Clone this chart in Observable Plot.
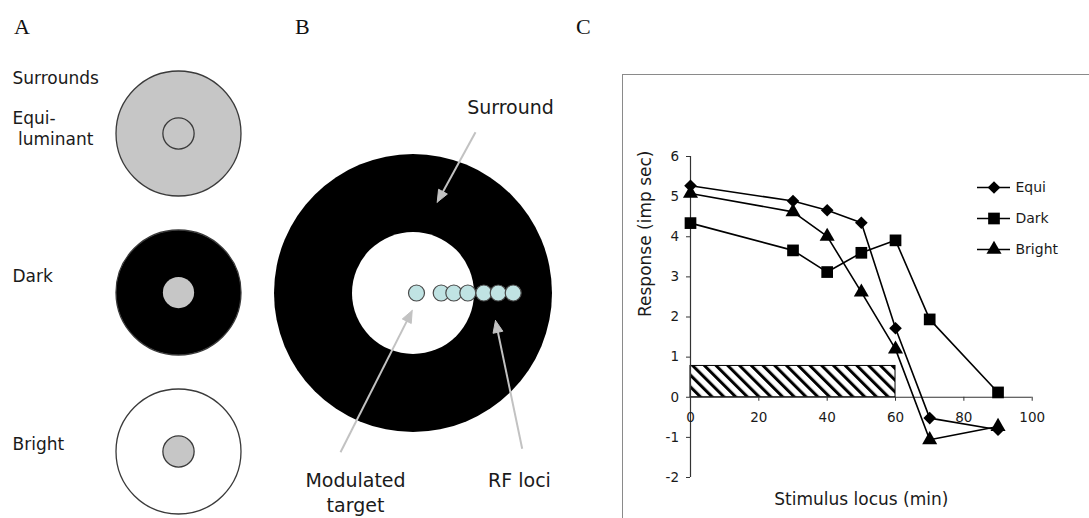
<!DOCTYPE html>
<html>
<head>
<meta charset="utf-8">
<script src="https://cdn.jsdelivr.net/npm/d3@7"></script>
<script src="https://cdn.jsdelivr.net/npm/@observablehq/plot@0.6"></script>
<style>
html, body { margin: 0; padding: 0; background: #fff; width: 1089px; height: 518px; overflow: hidden; }
#fig { position: relative; width: 1089px; height: 518px; }
.panel { position: absolute; }
.plabel { position: absolute; font-family: "Liberation Serif", "Times New Roman", serif; font-size: 22px; line-height: 22px; color: #111; }
#frameC { position: absolute; left: 622px; top: 74px; width: 700px; height: 700px; border-left: 1.5px solid #8a8a8a; border-top: 1.5px solid #8a8a8a; }
</style>
</head>
<body>
<svg width="0" height="0" style="position:absolute">
  <defs>
    <pattern id="hatch" patternUnits="userSpaceOnUse" width="8.3" height="8.3" patternTransform="rotate(-45)">
      <rect width="8.3" height="8.3" fill="white"></rect>
      <rect x="0" y="0" width="3" height="8.3" fill="black"></rect>
    </pattern>
  </defs>
</svg>
<div id="fig">
  <div class="plabel" style="left:14px;top:16px;">A</div>
  <div class="plabel" style="left:295px;top:16px;">B</div>
  <div class="plabel" style="left:576px;top:16px;">C</div>
  <div id="frameC"></div>
  <div class="panel" id="panelA" style="left:0px;top:0px;width:260px;height:518px;"></div>
  <div class="panel" id="panelB" style="left:260px;top:80px;width:320px;height:438px;"></div>
  <div class="panel" id="panelC" style="left:623px;top:75px;width:466px;height:443px;"></div>
  <div class="panel" id="legendC" style="left:970px;top:170px;width:119px;height:95px;"></div>
</div>
<script>
// ---------- Panel A data ----------
const surroundHeader = "Surrounds";
const surrounds = ["Equi", "Dark", "Bright"];
const surroundLabels = ["Equi-\n\u00a0luminant", "Dark", "Bright"];
const surroundSize = 1;      // relative diameter of surround
const targetSize = 0.25;     // relative diameter of target

// ---------- Panel B data (diagram units, centre of surround = 0,0) ----------
const bSurroundOuter = 139;
const bSurroundInner = 61;
const lociOffsets = [3.5, 28.2, 40.8, 54.8, 70.8, 85.2, 100.2];
const locusRadius = 8;
const bLabels = ["Surround", "Modulated\ntarget", "RF loci"];
const bLabelX = [97.5, -57.5, 106.5];
const bLabelY = [-187.5, 198, 185.5];
const arrowFromX = [62.5, -72.5, 109.2];
const arrowFromY = [-160.8, 159.2, 155.8];
const arrowToX = [24.2, -0.8, 82.5];
const arrowToY = [-90.8, 17.5, 27.5];

// ---------- Panel C data ----------
const series = ["Equi", "Dark", "Bright"];
const locus = [0, 30, 40, 50, 60, 70, 90];
const equi = [5.27, 4.89, 4.66, 4.35, 1.72, -0.52, -0.81];
const dark = [4.34, 3.66, 3.12, 3.60, 3.91, 1.94, 0.12];
const bright = [5.08, 4.62, 4.01, 2.62, 1.20, -1.06, -0.73];
const xTicks = [0, 20, 40, 60, 80, 100];
const yTicks = [-2, -1, 0, 1, 2, 3, 4, 5, 6];
const baselineSpan = [0, 60];
const baselineLevel = 0.78;
const xLabel = "Stimulus locus (min)";
const yLabel = "Response (imp sec)";

// ---------- styles ----------
const sans = "'DejaVu Sans', Verdana, sans-serif";
const ink = "#1a1a1a";
const gray = "#c6c6c6";
const outline = "#3a3a3a";
const arrowGray = "#c2c2c2";
const baseStyle = { fontFamily: sans, color: ink, background: "transparent", overflow: "visible" };

// ===== Panel A =====
const labelDy = [-5.6, -17.5, -8];
const panelA = Plot.plot({
  width: 260, height: 518,
  marginLeft: 116, marginRight: 20, marginTop: 133, marginBottom: 67,
  style: baseStyle,
  y: { type: "point", domain: surrounds, padding: 0, axis: null },
  r: { type: "linear", domain: [0, 1], range: [0, 62.5] },
  color: { domain: surrounds, range: [gray, "#000000", "#ffffff"] },
  marks: [
    Plot.dot(surrounds, { y: d => d, r: () => surroundSize, fill: d => d, stroke: outline, strokeWidth: 1.3 }),
    Plot.dot(surrounds.filter(s => s !== "Dark"), { y: d => d, r: () => targetSize, fill: gray, stroke: outline, strokeWidth: 1.3 }),
    Plot.dot(["Dark"], { y: d => d, r: () => targetSize, fill: gray }),
    Plot.text([surroundHeader], { text: d => d, frameAnchor: "top-left", dx: -104, dy: -55, textAnchor: "start", lineAnchor: "middle", fontSize: 17, fill: ink }),
    ...surrounds.map((s, i) => Plot.text([s], {
      y: d => d, text: () => surroundLabels[i], frameAnchor: "left", dx: -104, dy: labelDy[i],
      textAnchor: "start", lineAnchor: "middle", lineHeight: 1.255, fontSize: 17, fill: ink
    }))
  ]
});
document.getElementById("panelA").appendChild(panelA);

// ===== Panel B =====
const arrows = arrowFromX.map((x1, i) => {
  const x2 = arrowToX[i], y2 = arrowToY[i], y1 = arrowFromY[i];
  const len = Math.hypot(x2 - x1, y2 - y1);
  const ux = (x2 - x1) / len, uy = (y2 - y1) / len;
  const headLen = 12, halfW = 5;
  const bx = x2 - ux * headLen, by = y2 - uy * headLen;
  return { i, x1, y1, x2, y2, bx, by,
    head: [
      { i, x: x2, y: y2 },
      { i, x: bx - uy * halfW, y: by + ux * halfW },
      { i, x: bx + uy * halfW, y: by - ux * halfW },
      { i, x: x2, y: y2 }
    ] };
});
const panelB = Plot.plot({
  width: 320, height: 438,
  marginLeft: 0, marginRight: 0, marginTop: 0, marginBottom: 0,
  style: baseStyle,
  x: { domain: [-152.5, 167.5], axis: null },
  y: { domain: [-212.5, 225.5], reverse: true, axis: null },
  r: { type: "linear", domain: [0, 100], range: [0, 100] },
  marks: [
    Plot.dot([bSurroundOuter], { x: () => 0, y: () => 0, r: d => d, fill: "#000" }),
    Plot.dot([bSurroundInner], { x: () => 0, y: () => 0, r: d => d, fill: "#fff" }),
    Plot.dot(lociOffsets, { x: d => d, y: () => 0, r: () => locusRadius, fill: "#c0e3e3", stroke: "#4a4a4a", strokeWidth: 1.2 }),
    Plot.link(arrows, { x1: "x1", y1: "y1", x2: d => (d.bx + d.x2) / 2, y2: d => (d.by + d.y2) / 2, stroke: arrowGray, strokeWidth: 2 }),
    Plot.line(arrows.flatMap(a => a.head), { x: "x", y: "y", z: "i", fill: arrowGray, stroke: arrowGray, strokeWidth: 1 }),
    Plot.text(bLabels, { x: (d, i) => bLabelX[i], y: (d, i) => bLabelY[i], text: d => d, lineAnchor: "middle", lineHeight: 1.32, fontSize: 19, fill: ink })
  ]
});
document.getElementById("panelB").appendChild(panelB);

// ===== Panel C =====
const values = [equi, dark, bright];
const rows = series.flatMap((s, i) => locus.map((x, j) => ({ series: s, x, y: values[i][j] })));
const symbolOf = { Equi: "diamond2", Dark: "square", Bright: "triangle" };
const rOf = { Equi: 5.7, Dark: 6.6, Bright: 5.6 };

function buildC(axisDy) {
  return Plot.plot({
    width: 466, height: 443,
    marginLeft: 67, marginRight: 57.3, marginTop: 81, marginBottom: 41,
    style: baseStyle,
    x: { domain: [0, 100] },
    y: { domain: [-2, 6] },
    marks: [
      Plot.rect([baselineLevel], { x1: baselineSpan[0], x2: baselineSpan[1], y1: 0, y2: d => d, fill: "url(#hatch)", stroke: "#000", strokeWidth: 1 }),
      Plot.ruleX([0], { y1: -2, y2: 6, stroke: "#333", strokeWidth: 1.2 }),
      Plot.ruleY([0], { x1: 0, x2: 100, stroke: "#333", strokeWidth: 1.2 }),
      Plot.axisY({ ticks: yTicks, tickSize: 4, tickPadding: 7.5, fontSize: 13.5, tickFormat: d => String(d), label: null, stroke: "#333" }),
      Plot.axisX({ ticks: xTicks, tickSize: 4, tickPadding: 11, fontSize: 13.5, tickFormat: d => String(d), label: null, dy: axisDy, stroke: "#333" }),
      Plot.line(rows, { x: "x", y: "y", z: "series", stroke: "#000", strokeWidth: 1.6 }),
      ...series.map(s => Plot.dot(rows.filter(d => d.series === s), { x: "x", y: "y", symbol: symbolOf[s], r: rOf[s], fill: "#000", stroke: "none" })),
      Plot.text([yLabel], { text: d => d, frameAnchor: "left", rotate: -90, dx: -44.5, fontSize: 17, fill: ink }),
      Plot.text([xLabel], { text: d => d, frameAnchor: "bottom", dy: 27, fontSize: 17, fill: ink })
    ]
  });
}
const probe = buildC(0);
const ys = probe.scale("y");
const zeroDy = ys.apply(0) - ys.range[0];
document.getElementById("panelC").appendChild(buildC(zeroDy));

// ===== Legend C =====
const legendC = Plot.plot({
  width: 119, height: 95,
  marginLeft: 7, marginRight: 79, marginTop: 16, marginBottom: 16,
  style: baseStyle,
  x: { domain: [0, 1], axis: null },
  y: { type: "point", domain: series, padding: 0, axis: null },
  marks: [
    Plot.ruleY(series, { y: d => d, x1: 0, x2: 1, stroke: "#000", strokeWidth: 1.6 }),
    ...series.map(s => Plot.dot([s], { x: () => 0.5, y: d => d, symbol: symbolOf[s], r: rOf[s], fill: "#000", stroke: "none" })),
    Plot.text(series, { x: () => 1, y: d => d, text: d => d, textAnchor: "start", dx: 5, fontSize: 14, fill: ink })
  ]
});
document.getElementById("legendC").appendChild(legendC);
</script>
</body>
</html>
